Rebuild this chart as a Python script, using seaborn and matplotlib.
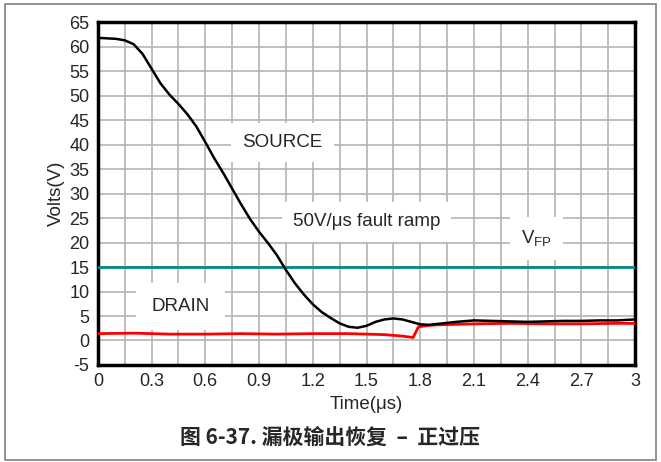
import pandas as pd
import seaborn as sns
import matplotlib.pyplot as plt
from matplotlib.patches import Rectangle

# Data
src_t = [0, 0.05, 0.1, 0.15, 0.2, 0.25, 0.3, 0.35, 0.4, 0.45, 0.5, 0.55, 0.6, 0.65,
         0.7, 0.75, 0.8, 0.85, 0.9, 0.95, 1.0, 1.05, 1.1, 1.15, 1.2, 1.25, 1.3,
         1.35, 1.4, 1.45, 1.5, 1.55, 1.6, 1.65, 1.7, 1.75, 1.8, 1.85, 1.9, 2.0,
         2.1, 2.2, 2.3, 2.4, 2.5, 2.6, 2.7, 2.8, 2.9, 3.0]
src_v = [61.8, 61.7, 61.6, 61.3, 60.5, 58.5, 55.5, 52.5, 50.2, 48.3, 46.2, 43.7, 40.5, 37.2,
         34.2, 31.0, 27.8, 24.8, 22.2, 19.9, 17.4, 14.4, 11.7, 9.4, 7.4, 5.8, 4.6,
         3.5, 2.8, 2.6, 3.0, 3.8, 4.3, 4.5, 4.3, 3.8, 3.3, 3.2, 3.4, 3.8,
         4.1, 4.0, 3.9, 3.8, 3.9, 4.0, 4.0, 4.1, 4.1, 4.3]

drn_t = [0, 0.2, 0.4, 0.6, 0.8, 1.0, 1.2, 1.4, 1.5, 1.6, 1.7, 1.76, 1.79, 1.85,
         1.9, 2.1, 2.3, 2.5, 2.7, 2.9, 3.0]
drn_v = [1.4, 1.5, 1.3, 1.3, 1.4, 1.3, 1.4, 1.4, 1.3, 1.2, 0.9, 0.6, 2.8, 3.1,
         3.2, 3.4, 3.5, 3.4, 3.4, 3.5, 3.5]

vfp = 15
x_ticks = [0, 0.3, 0.6, 0.9, 1.2, 1.5, 1.8, 2.1, 2.4, 2.7, 3]
x_labels = ["0", "0.3", "0.6", "0.9", "1.2", "1.5", "1.8", "2.1", "2.4", "2.7", "3"]
y_ticks = list(range(-5, 70, 5))

sns.set_style("white")
plt.rcParams['font.family'] = ['Liberation Sans', 'DejaVu Sans']
plt.rcParams['axes.unicode_minus'] = False

fig = plt.figure(figsize=(6.61, 4.62), dpi=100)
ax = fig.add_axes([0.148, 0.21, 0.813, 0.742])

# outer frame
fig.patches.append(Rectangle((0.008, 0.004), 0.984, 0.988, transform=fig.transFigure,
                             fill=False, edgecolor="#808080", lw=1.2))

# grid
for gx in [i * 0.15 for i in range(1, 20)]:
    ax.axvline(gx, color="#b4b4b4", lw=1.2, zorder=0)
for gy in y_ticks[1:-1]:
    ax.axhline(gy, color="#b4b4b4", lw=1.2, zorder=0)

ax.axhline(vfp, color="#008b8b", lw=2, zorder=3)

df_src = pd.DataFrame({"t": src_t, "v": src_v})
df_drn = pd.DataFrame({"t": drn_t, "v": drn_v})
sns.lineplot(data=df_drn, x="t", y="v", color="#ff0000", lw=2, ax=ax, zorder=4)
sns.lineplot(data=df_src, x="t", y="v", color="black", lw=1.8, ax=ax, zorder=5)

fs = 13.5
box = dict(facecolor="white", edgecolor="none", pad=8)
ax.text(1.03, 40.5, "SOURCE", ha="center", va="center", fontsize=fs, bbox=box, zorder=2)
ax.text(1.5, 24.2, "50V/\u03bcs fault ramp", ha="center", va="center", fontsize=fs,
        bbox=box, zorder=2)
ax.text(2.45, 20.8, "V$_{\\mathregular{FP}}$", ha="center", va="center", fontsize=fs,
        bbox=box, zorder=2)
ax.text(0.46, 7, "DRAIN", ha="center", va="center", fontsize=fs,
        bbox=dict(facecolor="white", edgecolor="none", pad=11), zorder=2)

ax.set_xlim(0, 3)
ax.set_ylim(-5, 65)
ax.set_xticks(x_ticks)
ax.set_xticklabels(x_labels)
ax.set_yticks(y_ticks)
ax.tick_params(labelsize=13, length=0, pad=6)
for s in ax.spines.values():
    s.set_linewidth(2.5)
    s.set_color("black")
ax.set_xlabel("Time(\u03bcs)", fontsize=13.5, labelpad=4)
ax.set_ylabel("Volts(V)", fontsize=13.5, labelpad=3)

fig.text(0.5, 0.053, "图 6-37. 漏极输出恢复  –  正过压", ha="center", va="center",
         fontsize=15, fontweight="bold", family=["Noto Sans CJK SC", "DejaVu Sans"])

fig.savefig("out.png", dpi=100)
